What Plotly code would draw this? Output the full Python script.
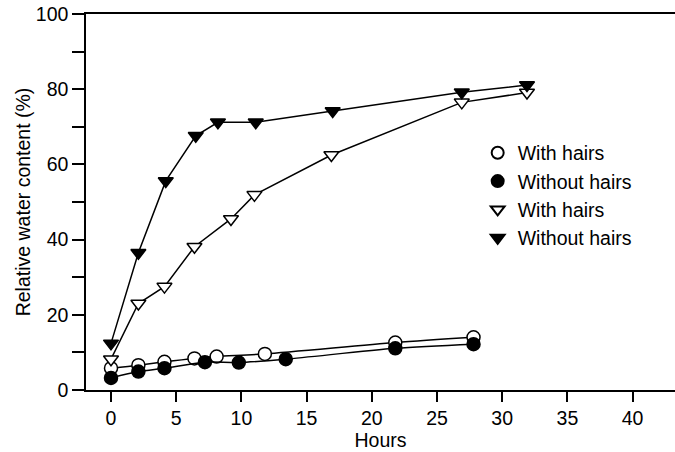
import plotly.graph_objects as go

# Data
hours_circ_open = [0, 2.1, 4.1, 6.4, 8.1, 11.8, 21.8, 27.8]
rwc_circ_open = [5.8, 6.6, 7.5, 8.4, 8.9, 9.6, 12.6, 14.0]

hours_circ_fill = [0, 2.1, 4.1, 7.2, 9.8, 13.4, 21.8, 27.8]
rwc_circ_fill = [3.2, 4.9, 5.8, 7.4, 7.3, 8.2, 11.1, 12.2]

hours_tri_open = [0, 2.1, 4.1, 6.4, 9.2, 11.0, 16.9, 26.9, 31.9]
rwc_tri_open = [8.2, 23.0, 27.5, 38.1, 45.5, 51.9, 62.5, 76.5, 79.1]

hours_tri_fill = [0, 2.1, 4.2, 6.5, 8.2, 11.1, 17.0, 26.9, 31.9]
rwc_tri_fill = [12.4, 36.5, 55.6, 67.6, 71.2, 71.2, 74.2, 79.2, 81.1]

legend_names = ["With hairs", "Without hairs", "With hairs", "Without hairs"]

x_ticks = [0, 5, 10, 15, 20, 25, 30, 35, 40]
y_ticks = list(range(0, 101, 10))
y_ticktext = [str(v) if v % 20 == 0 else "" for v in y_ticks]

FONT = "Liberation Sans, Arial, Helvetica, sans-serif"
BLACK = "#000000"
FS = 19.5

fig = go.Figure()

series = [
    (hours_circ_open, rwc_circ_open, "circle", "white", "spline"),
    (hours_circ_fill, rwc_circ_fill, "circle", BLACK, "spline"),
    (hours_tri_open, rwc_tri_open, "triangle-down", "white", "linear"),
    (hours_tri_fill, rwc_tri_fill, "triangle-down", BLACK, "linear"),
]

for (xs, ys, sym, fill, shape) in series:
    fig.add_trace(go.Scatter(
        x=xs, y=ys, mode="lines+markers", showlegend=False,
        line=dict(color=BLACK, width=1.5, shape=shape, smoothing=0.8),
        marker=dict(symbol=sym, size=13, color=fill,
                    line=dict(color=BLACK, width=1.5)),
        cliponaxis=False,
    ))

# legend entries (markers only)
for (name, (xs, ys, sym, fill, shape)) in zip(legend_names, series):
    fig.add_trace(go.Scatter(
        x=[None], y=[None], mode="markers", name=name,
        marker=dict(symbol=sym, size=10, color=fill,
                    line=dict(color=BLACK, width=1.2)),
    ))

fig.update_layout(
    width=675, height=452,
    margin=dict(l=86, r=0, t=14, b=62, autoexpand=False),
    paper_bgcolor="white", plot_bgcolor="white",
    font=dict(family=FONT, size=FS, color=BLACK),
    legend=dict(x=0.665, y=0.682, xanchor="left", yanchor="top",
                bgcolor="rgba(0,0,0,0)", font=dict(size=FS),
                tracegroupgap=0, itemsizing="constant"),
)

fig.update_xaxes(
    range=[-1.917, 43.25], tickvals=x_ticks, automargin=False,
    showline=True, linecolor=BLACK, linewidth=1.5, mirror=True,
    ticks="outside", ticklen=10, tickwidth=1.5, tickcolor=BLACK,
    showgrid=False, zeroline=False,
    title=dict(text="Hours", standoff=0, font=dict(size=FS)),
)
fig.update_yaxes(
    range=[0, 100], tickvals=y_ticks, ticktext=y_ticktext, automargin=False,
    showline=True, linecolor=BLACK, linewidth=1.5, mirror=False,
    ticks="outside", ticklen=12, tickwidth=1.5, tickcolor=BLACK,
    showgrid=False, zeroline=False,
    title=dict(text="Relative water content (%)", standoff=0, font=dict(size=FS)),
)

fig.write_html("out.html", config={"displayModeBar": False},
               post_script="document.body.style.margin='0';")
